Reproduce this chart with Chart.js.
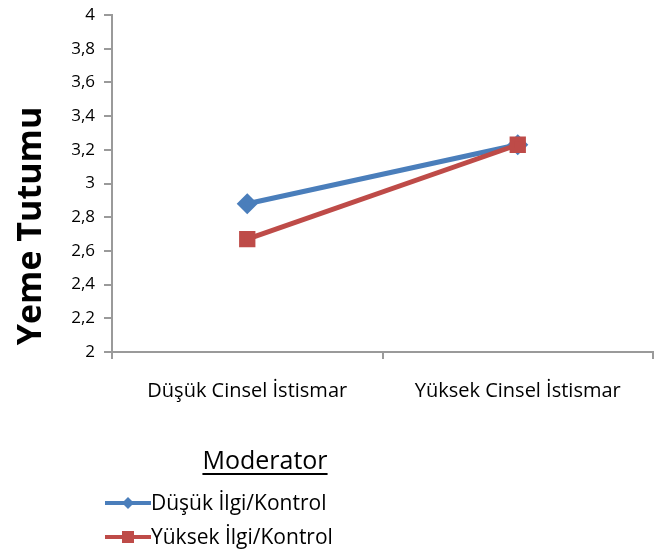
<!DOCTYPE html>
<html>
<head>
<meta charset="utf-8">
<script src="https://cdn.jsdelivr.net/npm/chart.js@4/dist/chart.umd.min.js"></script>
<style>
html,body{margin:0;padding:0;background:#fff;}
#wrap{width:660px;height:550px;position:relative;}
</style>
</head>
<body>
<div id="wrap"><canvas id="c" width="660" height="550"></canvas></div>
<script>
const categories = ["Düşük Cinsel İstismar", "Yüksek Cinsel İstismar"];
const seriesNames = ["Düşük İlgi/Kontrol", "Yüksek İlgi/Kontrol"];
const lowInterest = [2.88, 3.23];
const highInterest = [2.67, 3.23];
const yTitle = "Yeme Tutumu";
const legendTitle = "Moderator";

const FONT = "'Open Sans', 'Liberation Sans', sans-serif";

const textPlugin = {
  id: 'customText',
  afterDraw(chart) {
    const ctx = chart.ctx;
    ctx.save();
    // y axis title
    ctx.fillStyle = '#000';
    ctx.font = "bold 34px " + FONT;
    ctx.textAlign = 'center';
    ctx.textBaseline = 'middle';
    ctx.translate(31, 226);
    ctx.rotate(-Math.PI / 2);
    ctx.fillText(yTitle, 0, 0);
    ctx.setTransform(1, 0, 0, 1, 0, 0);
    // legend title
    ctx.font = "25px " + FONT;
    ctx.textBaseline = 'alphabetic';
    const tx = 265, ty = 469;
    ctx.fillText(legendTitle, tx, ty);
    const w = ctx.measureText(legendTitle).width;
    ctx.fillRect(tx - w / 2, ty + 4, w, 2);
    // legend items
    chart.data.datasets.forEach((ds, i) => {
      const y = 503 + i * 34;
      ctx.strokeStyle = ds.borderColor;
      ctx.lineWidth = 4;
      ctx.beginPath();
      ctx.moveTo(105, y);
      ctx.lineTo(151, y);
      ctx.stroke();
      ctx.fillStyle = ds.backgroundColor;
      if (ds.pointStyle === 'rectRot') {
        ctx.beginPath();
        ctx.moveTo(128, y - 6); ctx.lineTo(134, y); ctx.lineTo(128, y + 6); ctx.lineTo(122, y);
        ctx.closePath(); ctx.fill();
      } else {
        ctx.fillRect(122, y - 6, 12, 12);
      }
      ctx.fillStyle = '#000';
      ctx.font = "21px " + FONT;
      ctx.textAlign = 'left';
      ctx.textBaseline = 'middle';
      ctx.fillText(ds.label, 151, y + 1);
    });
    ctx.restore();
  }
};

new Chart(document.getElementById('c'), {
  type: 'line',
  data: {
    labels: categories,
    datasets: [
      {
        label: seriesNames[0],
        data: lowInterest,
        borderColor: '#4a7ebb',
        backgroundColor: '#4a7ebb',
        borderWidth: 5,
        pointStyle: 'rectRot',
        pointRadius: 7,
        pointHoverRadius: 7,
        tension: 0,
        order: 1
      },
      {
        label: seriesNames[1],
        data: highInterest,
        borderColor: '#be4b48',
        backgroundColor: '#be4b48',
        borderWidth: 5,
        pointStyle: 'rect',
        pointRadius: 8,
        pointHoverRadius: 8,
        tension: 0,
        order: 0
      }
    ]
  },
  options: {
    responsive: false,
    animation: false,
    devicePixelRatio: 1,
    layout: { autoPadding: false, padding: { left: 10, right: 7, top: 15, bottom: 148 } },
    plugins: {
      legend: { display: false },
      tooltip: { enabled: false }
    },
    scales: {
      x: {
        offset: true,
        afterFit: s => { s.height = 50; s.paddingLeft = 0; s.paddingRight = 0; },
        grid: { offset: true, drawOnChartArea: false, drawTicks: true, tickLength: 7, color: '#9a9a9a', lineWidth: 2 },
        border: { display: true, color: '#9a9a9a', width: 2 },
        ticks: { color: '#000', font: { family: FONT, size: 20 }, padding: 20, maxRotation: 0, autoSkip: false }
      },
      y: {
        min: 2, max: 4,
        afterFit: s => { s.width = 102; s.paddingTop = 0; s.paddingBottom = 0; },
        ticks: {
          stepSize: 0.2, color: '#000', padding: 9,
          font: { family: FONT, size: 17 },
          callback: v => (Math.round(v * 10) / 10).toString().replace('.', ',')
        },
        grid: { drawOnChartArea: false, drawTicks: true, tickLength: 8, color: '#9a9a9a', lineWidth: 2 },
        border: { display: true, color: '#9a9a9a', width: 2 }
      }
    }
  },
  plugins: [textPlugin]
});
</script>
</body>
</html>
